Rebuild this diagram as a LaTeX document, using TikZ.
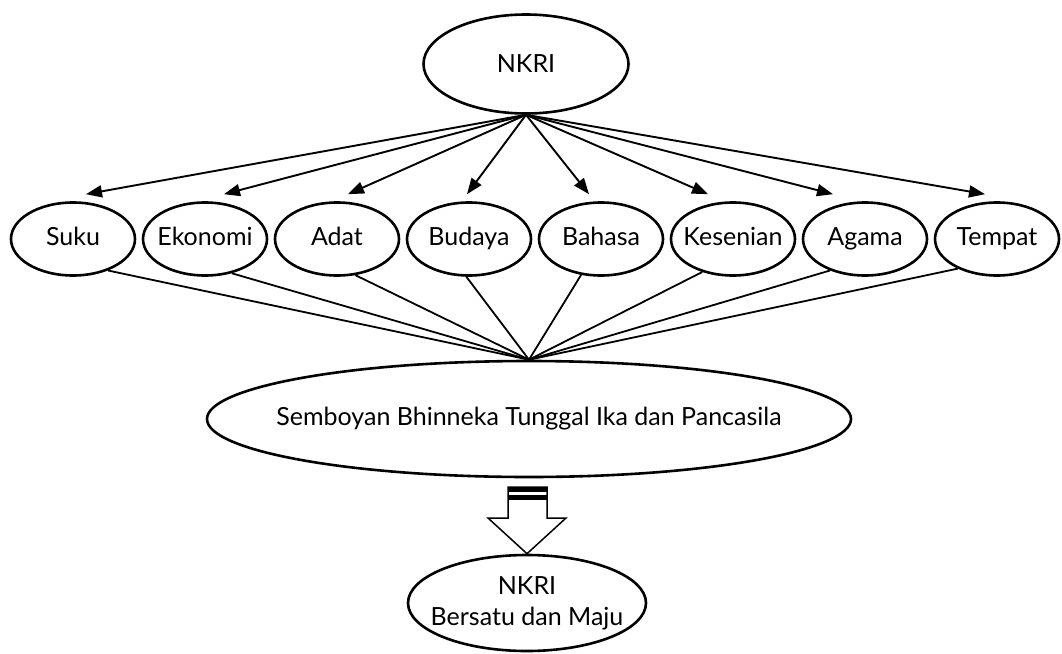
\documentclass[tikz,border=0pt]{standalone}
\usepackage{fontspec}
\setmainfont{Lato}
\usetikzlibrary{arrows.meta,shapes.geometric}

\tikzset{
    oval/.style={draw, ellipse, line width=2.6pt, inner sep=0pt,
        font=\fontsize{25}{31}\selectfont, align=center},
    unsur/.style={oval, minimum width=124pt, minimum height=73pt,
        inner xsep=-14pt, text height=18pt, text depth=5pt},
    panah/.style={-{Triangle[length=16pt,width=12pt]}, line width=1.9pt},
    garis/.style={line width=1.8pt}
}

\begin{document}
\begin{tikzpicture}[x=1pt,y=-1pt]
\useasboundingbox (0,0) rectangle (1062,653);
\node[oval, minimum width=205pt, minimum height=99pt] (nkri) at (526,64) {NKRI};
\foreach \nama/\teks [count=\i from 0] in {suku/Suku, ekonomi/Ekonomi,
    adat/Adat, budaya/Budaya, bahasa/Bahasa, kesenian/Kesenian,
    agama/Agama, tempat/Tempat}
    \node[unsur] (\nama) at (73+132*\i,239) {\teks};
\node[oval, minimum width=644pt, minimum height=116pt, inner xsep=-40pt]
    (semboyan) at (529,419) {Semboyan Bhinneka Tunggal Ika dan Pancasila};
\node[oval, minimum width=238pt, minimum height=96pt, inner xsep=-24pt]
    (maju) at (527,603) {NKRI\\Bersatu dan Maju};
\foreach \nama/\dx in {suku/13, ekonomi/19, adat/11, budaya/-2,
    bahasa/-12, kesenian/-25, agama/-32, tempat/-12}
    \draw[panah] (nkri.south) -- ([xshift=\dx pt,yshift=7pt]\nama.north);
\foreach \nama/\sudut in {suku/318, ekonomi/308, adat/297, budaya/266,
    bahasa/241, kesenian/227, agama/222, tempat/217}
    \draw[garis] (\nama.\sudut) -- (semboyan.north);
\draw[line width=1.5pt, line join=miter] (508,487) -- (547,487) -- (547,518)
    -- (566,518) -- (maju.north) -- (488,518) -- (508,518) -- cycle;
\fill (508,487) rectangle (547,492);
\fill (508,495) rectangle (547,500);
\end{tikzpicture}
\end{document}
